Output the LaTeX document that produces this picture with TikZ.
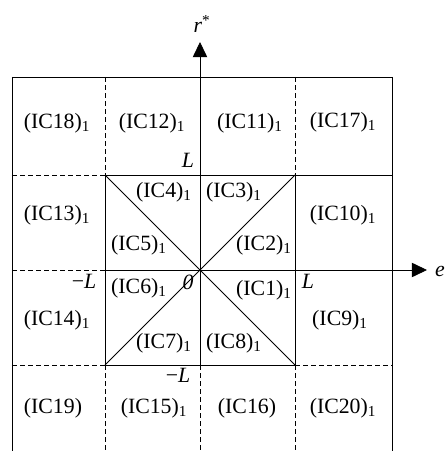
\documentclass[tikz,border=0pt]{standalone}
\usepackage{fontspec}
\setmainfont{Liberation Serif}
\usetikzlibrary{arrows.meta}

\begin{document}
\begin{tikzpicture}[x=0.025cm, y=0.025cm, line width=0.6pt,
    gap/.style={dash pattern=on 3.5pt off 2.2pt},
    lab/.style={font=\fontsize{15.5}{18}\selectfont, inner sep=0pt},
    axis/.style={-{Triangle[length=0.38cm, width=0.36cm]}}]
    \useasboundingbox (-200,-181) rectangle (245,270);

    % Define the points of the grid
    \coordinate (O) at (0,0);
    \coordinate (A) at (95,95);
    \coordinate (B) at (-95,95);
    \coordinate (C) at (-95,-95);
    \coordinate (D) at (95,-95);
    \coordinate (Xend) at (227,0);
    \coordinate (Yend) at (0,228);

    % Draw the solid edges
    \draw (-188,193) -- (192,193);
    \draw (-188,193) -- (-188,-181);
    \draw (192,193) -- (192,-181);
    \draw (B) rectangle (D);
    \draw (A) -- (192,95);
    \draw (A) -- (C);
    \draw (B) -- (D);

    % Draw the dashed edges
    \draw[gap] (-95,193) -- (B);
    \draw[gap] (95,193) -- (A);
    \draw[gap] (C) -- (-95,-181);
    \draw[gap] (0,-95) -- (0,-181);
    \draw[gap] (D) -- (95,-181);
    \draw[gap] (-188,95) -- (B);
    \draw[gap] (-188,0) -- (-95,0);
    \draw[gap] (-188,-95) -- (C);
    \draw[gap] (D) -- (192,-95);

    % Draw the axes
    \draw[axis] (-95,0) -- (Xend);
    \draw[axis] (0,-95) -- (Yend);
    \node[lab] (e) at (240,-1) {\textit{e}};
    \node[lab] (r) at (2,246) {\textit{r}\textsuperscript{*}};

    % Place the marks on the axes
    \node[lab] (Ltop) at (-12,110) {\textit{L}};
    \node[lab] (Lright) at (108,-11) {\textit{L}};
    \node[lab] (Lleft) at (-116,-11) {−\textit{L}};
    \node[lab] (Lbot) at (-22,-105) {−\textit{L}};
    \node[lab] (zero) at (-12,-12) {\textit{0}};

    % Place the region labels
    \node[lab] (ic18) at (-143,147) {(IC18)\textsubscript{1}};
    \node[lab] (ic12) at (-48,147) {(IC12)\textsubscript{1}};
    \node[lab] (ic11) at (50,147) {(IC11)\textsubscript{1}};
    \node[lab] (ic17) at (143,148) {(IC17)\textsubscript{1}};
    \node[lab] (ic4) at (-36,78) {(IC4)\textsubscript{1}};
    \node[lab] (ic3) at (34,78) {(IC3)\textsubscript{1}};
    \node[lab] (ic13) at (-143,55) {(IC13)\textsubscript{1}};
    \node[lab] (ic10) at (143,55) {(IC10)\textsubscript{1}};
    \node[lab] (ic5) at (-61,25) {(IC5)\textsubscript{1}};
    \node[lab] (ic2) at (64,25) {(IC2)\textsubscript{1}};
    \node[lab] (ic6) at (-61,-18) {(IC6)\textsubscript{1}};
    \node[lab] (ic1) at (64,-20) {(IC1)\textsubscript{1}};
    \node[lab] (ic14) at (-143,-50) {(IC14)\textsubscript{1}};
    \node[lab] (ic9) at (140,-50) {(IC9)\textsubscript{1}};
    \node[lab] (ic7) at (-36,-73) {(IC7)\textsubscript{1}};
    \node[lab] (ic8) at (34,-73) {(IC8)\textsubscript{1}};
    \node[lab] (ic19) at (-147,-138) {(IC19)};
    \node[lab] (ic15) at (-46,-138) {(IC15)\textsubscript{1}};
    \node[lab] (ic16) at (47,-138) {(IC16)};
    \node[lab] (ic20) at (143,-138) {(IC20)\textsubscript{1}};

\end{tikzpicture}
\end{document}
